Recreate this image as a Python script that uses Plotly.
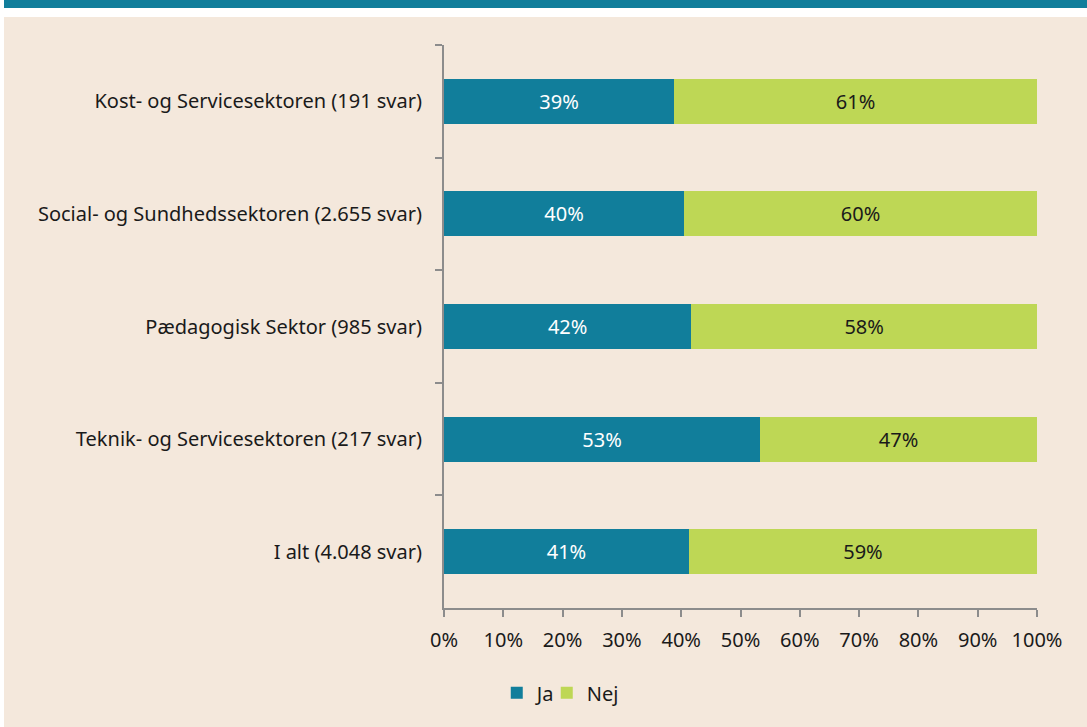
import plotly.graph_objects as go

categories = [
    "Kost- og Servicesektoren (191 svar)",
    "Social- og Sundhedssektoren (2.655 svar)",
    "Pædagogisk Sektor (985 svar)",
    "Teknik- og Servicesektoren (217 svar)",
    "I alt (4.048 svar)",
]
ja = [38.8, 40.5, 41.7, 53.3, 41.3]
nej = [61.2, 59.5, 58.3, 46.7, 58.7]
x_ticks = list(range(0, 101, 10))

TEAL = "#117e9b"
GREEN = "#bed755"
BEIGE = "#f4e8dc"
GREY = "#8c8c8c"
FONT = "Noto Sans"

W, H = 1087, 727
ml, mr, mt, mb = 444, 50, 45, 119
pw, ph = W - ml - mr, H - mt - mb


def px_to_paper_x(px):
    return (px - ml) / pw


def px_to_paper_y(py):
    return 1 - (py - mt) / ph


fig = go.Figure()
fig.add_trace(go.Bar(
    y=categories, x=ja, name="Ja", orientation="h",
    marker=dict(color=TEAL, line=dict(width=0)),
    text=[f"{round(v)}%" for v in ja], textposition="inside",
    insidetextanchor="middle",
    textfont=dict(color="white", size=20, family=FONT),
    hoverinfo="skip", legend="legend", showlegend=True,
))
fig.add_trace(go.Bar(
    y=categories, x=nej, name="Nej", orientation="h",
    marker=dict(color=GREEN, line=dict(width=0)),
    text=[f"{round(v)}%" for v in nej], textposition="inside",
    insidetextanchor="middle",
    textfont=dict(color="#1a1a1a", size=20, family=FONT),
    hoverinfo="skip", legend="legend2", showlegend=True,
))

# background panels: white page, teal band on top, beige panel
fig.add_shape(type="rect", xref="paper", yref="paper", layer="below",
              x0=px_to_paper_x(0), x1=px_to_paper_x(W),
              y0=px_to_paper_y(H), y1=px_to_paper_y(0),
              fillcolor="white", line=dict(width=0))
fig.add_shape(type="rect", xref="paper", yref="paper", layer="below",
              x0=px_to_paper_x(4), x1=px_to_paper_x(W),
              y0=px_to_paper_y(8), y1=px_to_paper_y(0),
              fillcolor=TEAL, line=dict(width=0))
fig.add_shape(type="rect", xref="paper", yref="paper", layer="below",
              x0=px_to_paper_x(4), x1=px_to_paper_x(W),
              y0=px_to_paper_y(H), y1=px_to_paper_y(17),
              fillcolor=BEIGE, line=dict(width=0))

legend_style = dict(orientation="h", xref="container", yref="container",
                    xanchor="left", y=0.047, yanchor="middle",
                    font=dict(size=20), itemwidth=30,
                    bgcolor="rgba(0,0,0,0)")

fig.update_layout(
    width=W, height=H,
    margin=dict(l=ml, r=mr, t=mt, b=mb),
    barmode="stack", bargap=0.6, showlegend=True,
    paper_bgcolor="white", plot_bgcolor=BEIGE,
    font=dict(family=FONT, size=20, color="#1a1a1a"),
    uniformtext=dict(minsize=20, mode="show"),
    legend=dict(legend_style, x=0.457),
    legend2=dict(legend_style, x=0.503),
    xaxis=dict(range=[0, 100], tickvals=x_ticks,
               ticktext=[f"{v}%" for v in x_ticks],
               showgrid=False, zeroline=False,
               showline=True, linecolor=GREY, linewidth=2,
               ticks="outside", ticklen=7, tickwidth=2, tickcolor=GREY,
               ticklabelstandoff=6, tickfont=dict(size=20)),
    yaxis=dict(autorange="reversed", showgrid=False,
               showline=True, linecolor=GREY, linewidth=2,
               ticks="outside", ticklen=7, tickwidth=2, tickcolor=GREY,
               tickson="boundaries", ticklabelstandoff=16,
               tickfont=dict(size=20)),
)

fig.write_html("out.html", config={"displayModeBar": False},
               post_script="document.body.style.margin='0px';")
